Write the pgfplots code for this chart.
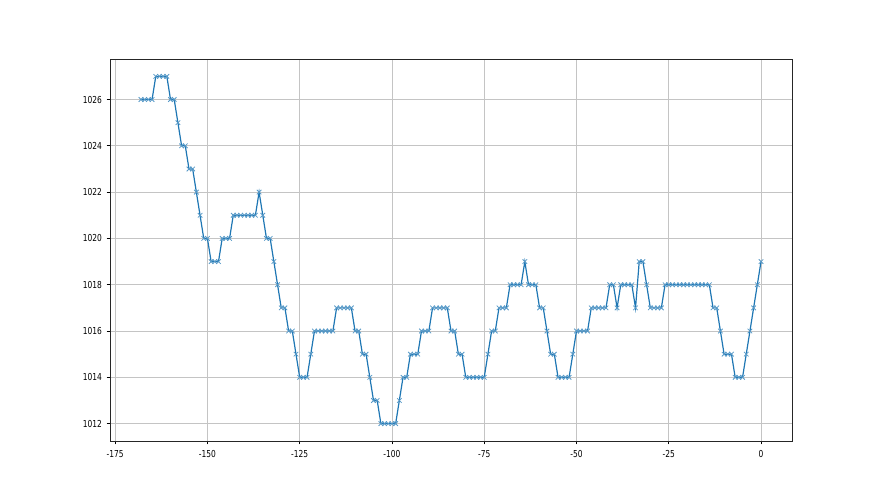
\documentclass[border=0pt]{standalone}
\usepackage{pgfplots}
\pgfplotsset{compat=1.18}
\usepackage{fontspec}
\setmainfont{DejaVu Sans}
\newfontfamily\tickfont[FakeStretch=0.78]{DejaVu Sans}
\definecolor{c0}{HTML}{1F77B4}
\definecolor{gridc}{HTML}{C4C4C4}
\begin{document}
\begin{tikzpicture}
\path[use as bounding box] (0pt,0pt) rectangle (660pt,371.25pt);
\begin{axis}[
  at={(82.5pt,40.5pt)}, anchor=south west,
  scale only axis, width=511.5pt, height=286.5pt,
  xmin=-176.4, xmax=8.4, ymin=1011.25, ymax=1027.75,
  xtick={-175,-150,-125,-100,-75,-50,-25,0},
  ytick={1012,1014,1016,1018,1020,1022,1024,1026},
  grid=major, major grid style={gridc, line width=0.55pt},
  axis line style={black!85, line width=0.55pt},
  tick align=outside, tick pos=left,
  major tick length=2.6pt, tick style={black, line width=0.55pt},
  /pgf/number format/assume math mode=true,
  /pgf/number format/1000 sep={},
  ticklabel style={font=\tickfont\fontsize{7.2}{9}\selectfont},
  xticklabel style={yshift=-1pt},
]
\addplot[c0, line width=0.9pt, mark=x, mark size=2.4pt, mark options={line width=0.6pt, c0!75}] table {
x y
-168 1026
-167 1026
-166 1026
-165 1026
-164 1027
-163 1027
-162 1027
-161 1027
-160 1026
-159 1026
-158 1025
-157 1024
-156 1024
-155 1023
-154 1023
-153 1022
-152 1021
-151 1020
-150 1020
-149 1019
-148 1019
-147 1019
-146 1020
-145 1020
-144 1020
-143 1021
-142 1021
-141 1021
-140 1021
-139 1021
-138 1021
-137 1021
-136 1022
-135 1021
-134 1020
-133 1020
-132 1019
-131 1018
-130 1017
-129 1017
-128 1016
-127 1016
-126 1015
-125 1014
-124 1014
-123 1014
-122 1015
-121 1016
-120 1016
-119 1016
-118 1016
-117 1016
-116 1016
-115 1017
-114 1017
-113 1017
-112 1017
-111 1017
-110 1016
-109 1016
-108 1015
-107 1015
-106 1014
-105 1013
-104 1013
-103 1012
-102 1012
-101 1012
-100 1012
-99 1012
-98 1013
-97 1014
-96 1014
-95 1015
-94 1015
-93 1015
-92 1016
-91 1016
-90 1016
-89 1017
-88 1017
-87 1017
-86 1017
-85 1017
-84 1016
-83 1016
-82 1015
-81 1015
-80 1014
-79 1014
-78 1014
-77 1014
-76 1014
-75 1014
-74 1015
-73 1016
-72 1016
-71 1017
-70 1017
-69 1017
-68 1018
-67 1018
-66 1018
-65 1018
-64 1019
-63 1018
-62 1018
-61 1018
-60 1017
-59 1017
-58 1016
-57 1015
-56 1015
-55 1014
-54 1014
-53 1014
-52 1014
-51 1015
-50 1016
-49 1016
-48 1016
-47 1016
-46 1017
-45 1017
-44 1017
-43 1017
-42 1017
-41 1018
-40 1018
-39 1017
-38 1018
-37 1018
-36 1018
-35 1018
-34 1017
-33 1019
-32 1019
-31 1018
-30 1017
-29 1017
-28 1017
-27 1017
-26 1018
-25 1018
-24 1018
-23 1018
-22 1018
-21 1018
-20 1018
-19 1018
-18 1018
-17 1018
-16 1018
-15 1018
-14 1018
-13 1017
-12 1017
-11 1016
-10 1015
-9 1015
-8 1015
-7 1014
-6 1014
-5 1014
-4 1015
-3 1016
-2 1017
-1 1018
0 1019
};
\end{axis}
\end{tikzpicture}
\end{document}
